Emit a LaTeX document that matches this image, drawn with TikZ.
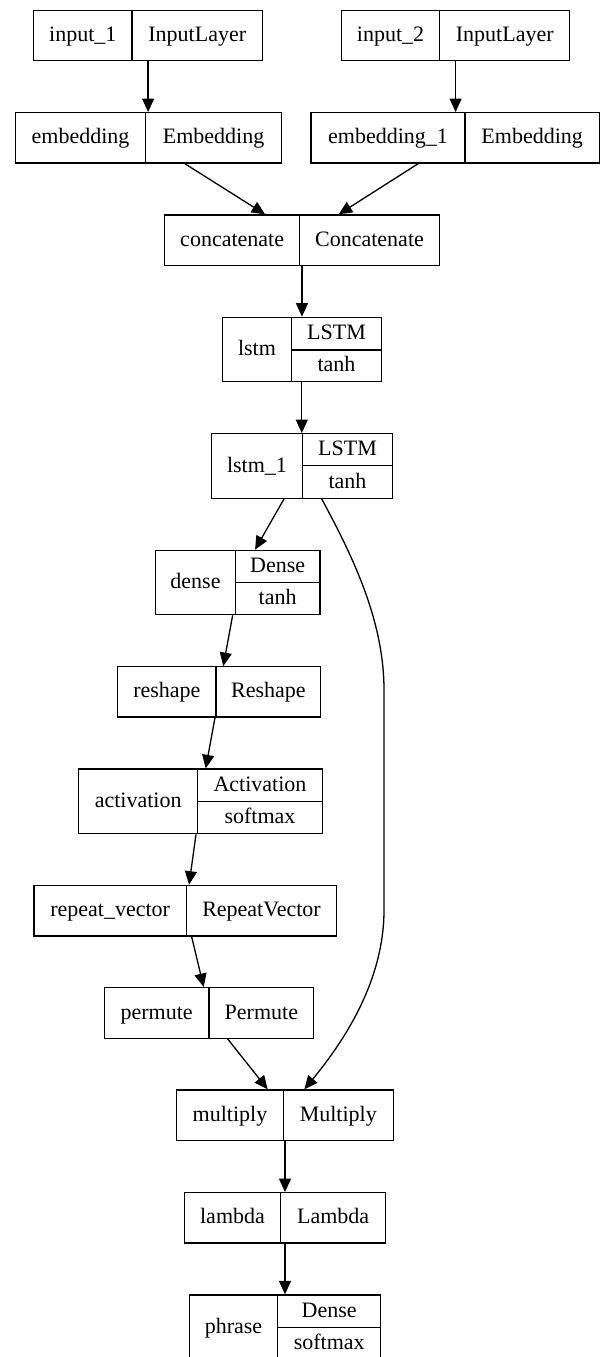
\documentclass[tikz,border=0pt]{standalone}
\usepackage{fontspec}
\setmainfont{Liberation Serif}
\usetikzlibrary{arrows.meta}
\tikzset{
  recbox/.style={draw, line width=1.3pt, rectangle, inner sep=0pt},
  cell/.style={draw, line width=1.3pt, rectangle, inner sep=0pt, text height=16pt, text depth=4pt, font=\fontsize{22}{26}\selectfont},
  arr/.style={line width=1.3pt, -{Triangle[length=13.5pt,width=12pt]}}
}
% name, x1, x2, xd, y1, y2, left, right
\newcommand\recA[8]{%
  \node[recbox, minimum width={(#3)-(#2)}, minimum height={(#6)-(#5)}] (#1) at ({((#2)+(#3))/2},{((#5)+(#6))/2}) {};
  \node[cell, minimum width={(#4)-(#2)}, minimum height={(#6)-(#5)}] (#1-l) at ({((#2)+(#4))/2},{((#5)+(#6))/2}) {#7};
  \node[cell, minimum width={(#3)-(#4)}, minimum height={(#6)-(#5)}] (#1-r) at ({((#4)+(#3))/2},{((#5)+(#6))/2}) {#8};
}
% name, x1, x2, xd, y1, y2, yh, left, righttop
\newcommand\recBB[9]{%
  \node[recbox, minimum width={(#3)-(#2)}, minimum height={(#6)-(#5)}] (#1) at ({((#2)+(#3))/2},{((#5)+(#6))/2}) {};
  \node[cell, minimum width={(#4)-(#2)}, minimum height={(#6)-(#5)}] (#1-l) at ({((#2)+(#4))/2},{((#5)+(#6))/2}) {#8};
  \node[cell, minimum width={(#3)-(#4)}, minimum height={(#7)-(#5)}] (#1-t) at ({((#4)+(#3))/2},{((#5)+(#7))/2}) {#9};
}
% name, x2, xd, y2, yh, rightbottom
\newcommand\recBtail[6]{%
  \node[cell, minimum width={(#2)-(#3)}, minimum height={(#4)-(#5)}] (#1-b) at ({((#3)+(#2))/2},{((#5)+(#4))/2}) {#6};
}
\begin{document}
\begin{tikzpicture}[x=1pt,y=-1pt]
\useasboundingbox (0,0) rectangle (600,1357);
\recA{in1}{33.7}{262.5}{132}{10.7}{60.7}{input\_1}{InputLayer}
\recA{in2}{341.4}{569.8}{439.7}{10.7}{60.7}{input\_2}{InputLayer}
\recA{emb}{15.3}{281.3}{145.8}{112.7}{163}{embedding}{Embedding}
\recA{emba}{311.1}{599.3}{465}{112.7}{163}{embedding\_1}{Embedding}
\recA{cat}{164.6}{439.3}{299.7}{215}{265.3}{concatenate}{Concatenate}
\recBB{lstm}{222.3}{381.3}{291.7}{317.3}{381.7}{350}{lstm}{LSTM}\recBtail{lstm}{381.3}{291.7}{381.7}{350}{tanh}
\recBB{lstma}{211.3}{392.3}{302.7}{433.7}{498.3}{465.7}{lstm\_1}{LSTM}\recBtail{lstma}{392.3}{302.7}{498.3}{465.7}{tanh}
\recBB{dense}{155.7}{320}{235.3}{550.3}{614.7}{582.3}{dense}{Dense}\recBtail{dense}{320}{235.3}{614.7}{582.3}{tanh}
\recA{resh}{117.7}{320.7}{216}{666.7}{717}{reshape}{Reshape}
\recBB{act}{78.7}{322.3}{197.7}{769}{833.7}{801.3}{activation}{Activation}\recBtail{act}{322.3}{197.7}{833.7}{801.3}{softmax}
\recA{rv}{34}{336.7}{186.3}{885.3}{936}{repeat\_vector}{RepeatVector}
\recA{perm}{104.3}{313.7}{209}{987.7}{1038.3}{permute}{Permute}
\recA{mul}{176.7}{393.3}{283.3}{1090}{1140.7}{multiply}{Multiply}
\recA{lam}{184.3}{385.7}{280.7}{1192.7}{1243}{lambda}{Lambda}
\recBB{phr}{189.3}{380.7}{277.7}{1295}{1359.5}{1327.3}{phrase}{Dense}\recBtail{phr}{380.7}{277.7}{1359.5}{1327.3}{softmax}

\draw[arr] (in1.south) -- (in1.south |- emb.north);
\draw[arr] (in2.south) -- (in2.south |- emba.north);
\draw[arr] ([xshift=36.5pt]emb.south) -- ([xshift=-36.8pt]cat.north);
\draw[arr] ([xshift=-37pt]emba.south) -- ([xshift=36.7pt]cat.north);
\draw[arr] (cat.south) -- (cat.south |- lstm.north);
\draw[arr] (lstm.south) -- (lstm.south |- lstma.north);
\draw[arr] ([xshift=-17.8pt]lstma.south) -- ([xshift=17.2pt]dense.north);
\draw[arr] ([xshift=-5.2pt]dense.south) -- ([xshift=4.1pt]resh.north);
\draw[arr] ([xshift=-4.2pt]resh.south) -- ([xshift=5.2pt]act.north);
\draw[arr] ([xshift=-4.5pt]act.south) -- ([xshift=3.7pt]rv.north);
\draw[arr] ([xshift=6.3pt]rv.south) -- ([xshift=-5.3pt]perm.north);
\draw[arr] ([xshift=18.7pt]perm.south) -- ([xshift=-17.3pt]mul.north);
\coordinate (bendA) at (384,690);
\coordinate (bendB) at (384,910);
\draw[arr] ([xshift=19.9pt]lstma.south) .. controls (352,555) and (384,620) .. (bendA) -- (bendB) .. controls (384,980) and (345,1040) .. ([xshift=19.3pt]mul.north);
\draw[arr] (mul.south) -- (mul.south |- lam.north);
\draw[arr] (lam.south) -- (lam.south |- phr.north);
\end{tikzpicture}
\end{document}
